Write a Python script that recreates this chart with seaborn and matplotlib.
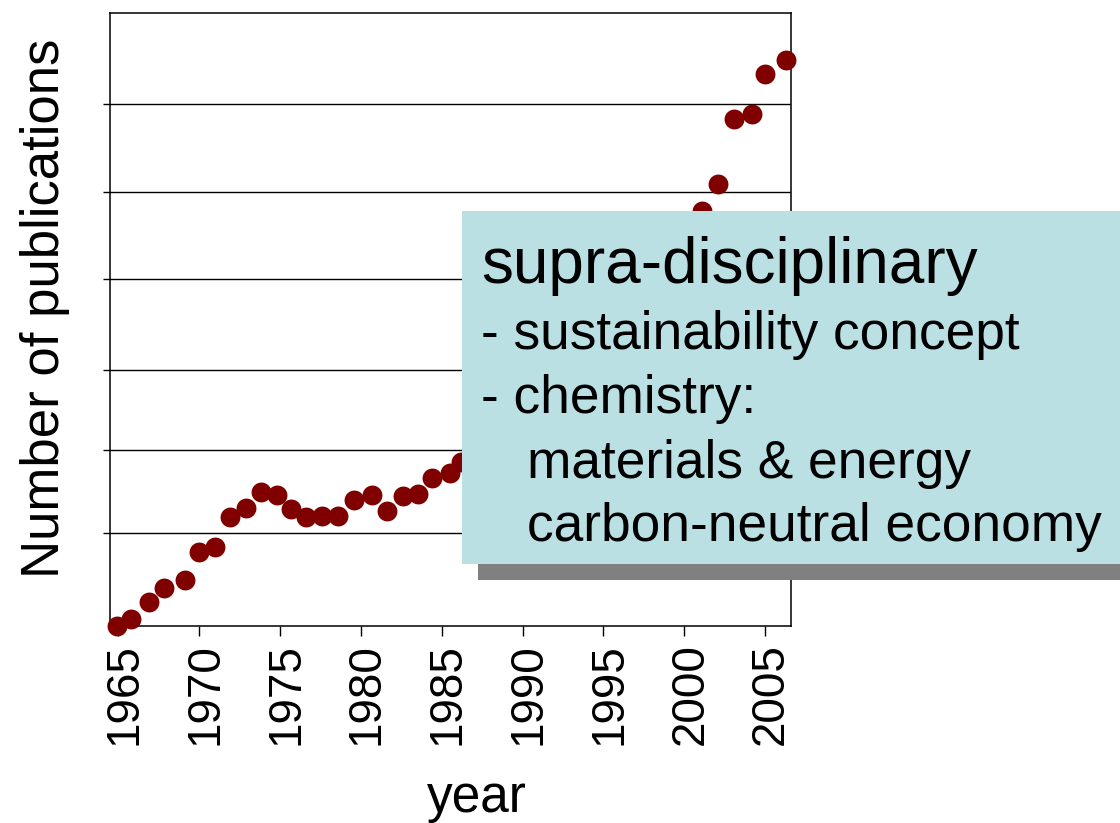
import numpy as np
import pandas as pd
import matplotlib
matplotlib.use("Agg")
import matplotlib.pyplot as plt
from matplotlib.patches import Rectangle
from matplotlib.transforms import ScaledTranslation
import seaborn as sns

# Data (x as positioned on the year axis, y in arbitrary
# units since the axis carries no numbers). Points hidden by the text box
# (about 1987-2000) cannot be read and are left out.
year = [1964.9, 1965.8, 1966.9, 1967.8, 1969.1, 1970.0, 1971.0, 1971.9,
        1972.9, 1973.8, 1974.8, 1975.7, 1976.6, 1977.6, 1978.6, 1979.6,
        1980.7, 1981.6, 1982.6, 1983.5, 1984.4, 1985.5, 1986.2,
        2001.1, 2002.1, 2003.1, 2004.2, 2005.0, 2006.3]
publications = [0.00, 0.08, 0.27, 0.43, 0.53, 0.84, 0.90, 1.24,
                1.35, 1.53, 1.49, 1.34, 1.24, 1.26, 1.26, 1.44,
                1.49, 1.31, 1.48, 1.51, 1.69, 1.75, 1.87,
                4.74, 5.05, 5.79, 5.84, 6.30, 6.46]

year_ticks = [1965, 1970, 1975, 1980, 1985, 1990, 1995, 2000, 2005]
grid_levels = [1.06, 2.01, 2.92, 3.96, 4.95, 5.96]

box_title = "supra-disciplinary"
box_lines = ["- sustainability concept", "- chemistry:"]
box_sublines = ["materials & energy", "carbon-neutral economy"]

df = pd.DataFrame({"year": year, "publications": publications})

# -------------------------
# Style
# -------------------------
sns.set_theme(style="ticks")
plt.rcParams["font.family"] = ["Liberation Sans", "DejaVu Sans"]
plt.rcParams["text.color"] = "black"
plt.rcParams["axes.labelcolor"] = "black"
plt.rcParams["xtick.color"] = "black"
plt.rcParams["ytick.color"] = "black"

W, H = 1120, 823
fig = plt.figure(figsize=(W / 100, H / 100), dpi=100)
ax = fig.add_axes([109.7 / W, 1 - 626 / H, (791 - 109.7) / W, (626 - 12.7) / H])


def fx(px):
    return px / W


def fy(py):
    return 1 - py / H


# -------------------------
# Scatter
# -------------------------
sns.scatterplot(data=df, x="year", y="publications", ax=ax,
                color="#800000", s=205, linewidth=0, clip_on=False, zorder=3)

ax.set_xlim(1964.46, 2006.6)
ax.set_ylim(0, 7)

ax.set_xticks(year_ticks)
ax.set_xticklabels([str(y) for y in year_ticks], rotation=90, fontsize=33)
ax.set_yticks(grid_levels)
ax.set_yticklabels([])
ax.tick_params(axis="x", length=7.2, width=1.0, pad=5, color="black")
ax.tick_params(axis="y", length=4.7, width=1.0, color="black")

# labels sit a little right of their ticks in the original
shift = ScaledTranslation(6 / 100, 0, fig.dpi_scale_trans)
for lab in ax.get_xticklabels():
    lab.set_transform(lab.get_transform() + shift)

ax.yaxis.grid(True, color="black", linewidth=1.0)
ax.xaxis.grid(False)
ax.set_axisbelow(True)

for side in ["left", "right", "top", "bottom"]:
    ax.spines[side].set_visible(True)
    ax.spines[side].set_color("black")
    ax.spines[side].set_linewidth(1.1)

ax.set_xlabel("year", fontsize=37, va="baseline")
ax.xaxis.set_label_coords((477 - 109.7) / (791 - 109.7), -(812 - 626) / (626 - 12.7))
ax.set_ylabel("Number of publications", fontsize=38, va="baseline")
ax.yaxis.set_label_coords(-(109.7 - 59) / (791 - 109.7), (626 - 308) / (626 - 12.7))

# -------------------------
# Text box with shadow
# -------------------------
shadow = Rectangle((fx(478), fy(580)), fx(1136) - fx(478), fy(227) - fy(580),
                   transform=fig.transFigure, facecolor="#808080",
                   edgecolor="none", zorder=5)
box = Rectangle((fx(462), fy(564)), fx(1120) - fx(462), fy(211) - fy(564),
                transform=fig.transFigure, facecolor="#BBE0E3",
                edgecolor="none", zorder=6)
fig.add_artist(shadow)
fig.add_artist(box)

fig.text(fx(481), fy(282.7), box_title, fontsize=46, va="baseline", zorder=7)
for txt, base in zip(box_lines, [349.3, 412.7]):
    fig.text(fx(481), fy(base), txt, fontsize=38.3, va="baseline", zorder=7)
for txt, base in zip(box_sublines, [477.7, 541]):
    fig.text(fx(527), fy(base), txt, fontsize=38.3, va="baseline", zorder=7)

plt.savefig("out.png", dpi=100)
